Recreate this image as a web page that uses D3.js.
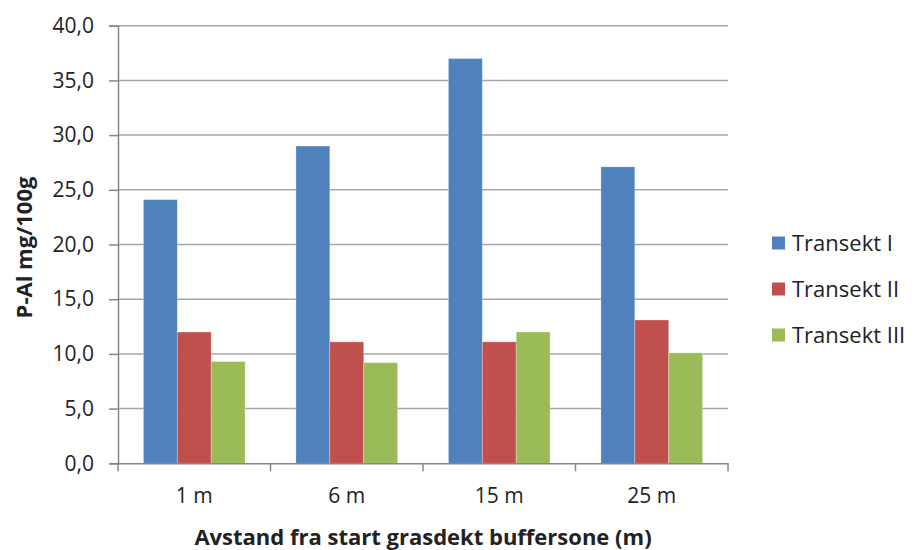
<!DOCTYPE html>
<html>
<head>
<meta charset="utf-8">
<script src="https://cdn.jsdelivr.net/npm/d3@7"></script>
<style>
  html, body { margin: 0; padding: 0; background: #fff; }
  svg { display: block; }
  text { font-family: "Open Sans", "Lato", sans-serif; fill: #222; }
</style>
</head>
<body>
<svg id="chart" width="915" height="550"></svg>
<script>
// P-Al per distance from the start of the grass buffer zone
const categories = ["1 m", "6 m", "15 m", "25 m"];
const seriesNames = ["Transekt I", "Transekt II", "Transekt III"];
const transektI = [24.1, 29.0, 37.0, 27.1];
const transektII = [12.0, 11.1, 11.1, 13.1];
const transektIII = [9.3, 9.2, 12.0, 10.1];
const yTicks = [0, 5, 10, 15, 20, 25, 30, 35, 40];
const colors = ["#4F81BD", "#C0504D", "#9BBB59"];

const seriesValues = [transektI, transektII, transektIII];

const svg = d3.select("#chart");
const plot = { left: 118, right: 728, top: 25.7, bottom: 463.3 };
const font = "'Open Sans', Lato, sans-serif";

const x = d3.scaleBand()
  .domain(categories)
  .range([plot.left, plot.right])
  .paddingInner(0)
  .paddingOuter(0);

// bars occupy 2/3 of each band (gap width 150%)
const inner = d3.scaleBand()
  .domain(seriesNames)
  .range([x.bandwidth() / 6, x.bandwidth() * 5 / 6])
  .padding(0);

const y = d3.scaleLinear().domain([0, 40]).range([plot.bottom, plot.top]);

// horizontal gridlines
svg.append("g")
  .selectAll("line")
  .data(yTicks.filter(d => d > 0))
  .join("line")
  .attr("x1", plot.left)
  .attr("x2", plot.right)
  .attr("y1", d => y(d))
  .attr("y2", d => y(d))
  .attr("stroke", "#A6A6A6")
  .attr("stroke-width", 1.5);

// bars
const groups = svg.append("g")
  .selectAll("g")
  .data(seriesNames)
  .join("g")
  .attr("fill", (d, i) => colors[i]);

groups.selectAll("rect")
  .data((name, si) => categories.map((c, ci) => ({ name, c, v: seriesValues[si][ci] })))
  .join("rect")
  .attr("x", d => x(d.c) + inner(d.name))
  .attr("width", inner.bandwidth())
  .attr("y", d => y(d.v))
  .attr("height", d => y(0) - y(d.v))
  .attr("stroke", "rgba(255,255,255,0.35)")
  .attr("stroke-width", 0.8);

// y axis
const yAxis = svg.append("g")
  .attr("transform", `translate(${plot.left},0)`)
  .call(d3.axisLeft(y)
    .tickValues(yTicks)
    .tickSize(9)
    .tickPadding(15)
    .tickFormat(d => d3.format(".1f")(d).replace(".", ",")));
yAxis.select(".domain").attr("stroke", "#868686").attr("stroke-width", 1.5);
yAxis.selectAll(".tick line").attr("stroke", "#868686").attr("stroke-width", 1.5);
yAxis.selectAll(".tick text")
  .attr("font-size", 21)
  .attr("font-family", font)
  .attr("fill", "#222");

// x axis
const xAxis = svg.append("g")
  .attr("transform", `translate(0,${plot.bottom})`)
  .call(d3.axisBottom(x).tickSize(0).tickPadding(25));
xAxis.select(".domain").attr("stroke", "#868686").attr("stroke-width", 1.5);
xAxis.selectAll(".tick text")
  .attr("font-size", 21)
  .attr("font-family", font)
  .attr("fill", "#222");

// category separators below the axis
svg.append("g")
  .selectAll("line")
  .data(d3.range(categories.length + 1))
  .join("line")
  .attr("x1", i => plot.left + i * x.step())
  .attr("x2", i => plot.left + i * x.step())
  .attr("y1", plot.bottom)
  .attr("y2", plot.bottom + 8)
  .attr("stroke", "#868686")
  .attr("stroke-width", 1.5);

// axis titles
svg.append("text")
  .attr("transform", `translate(32,${(plot.top + plot.bottom) / 2 + 3}) rotate(-90)`)
  .attr("text-anchor", "middle")
  .attr("font-size", 22)
  .attr("font-weight", "bold")
  .text("P-Al mg/100g");

svg.append("text")
  .attr("x", (plot.left + plot.right) / 2)
  .attr("y", 545)
  .attr("text-anchor", "middle")
  .attr("font-size", 22)
  .attr("font-weight", "bold")
  .text("Avstand fra start grasdekt buffersone (m)");

// legend
const legend = svg.append("g")
  .selectAll("g")
  .data(seriesNames)
  .join("g")
  .attr("transform", (d, i) => `translate(772,${243 + i * 46})`);

legend.append("rect")
  .attr("x", 0)
  .attr("y", -6.5)
  .attr("width", 13)
  .attr("height", 13)
  .attr("fill", (d, i) => colors[i]);

legend.append("text")
  .attr("x", 20)
  .attr("y", 0)
  .attr("dy", "0.36em")
  .attr("font-size", 22)
  .text(d => d);
</script>
</body>
</html>
